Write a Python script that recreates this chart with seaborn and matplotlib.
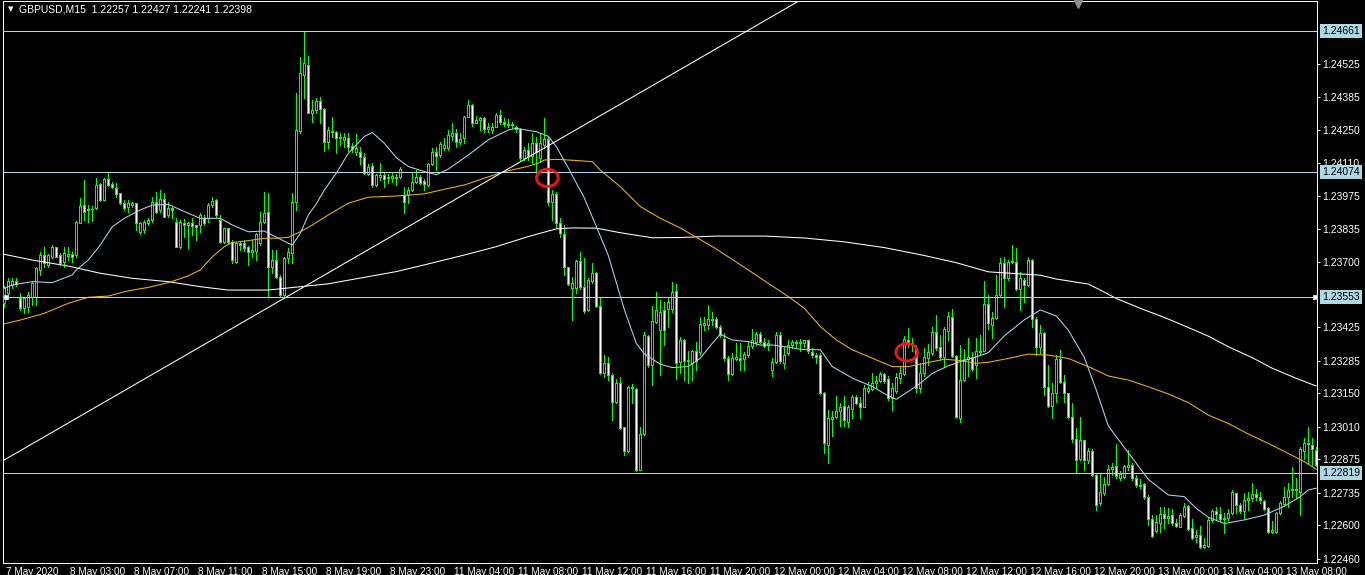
import numpy as np
import matplotlib
matplotlib.use("Agg")
import matplotlib.pyplot as plt
import matplotlib.transforms as mtransforms
from matplotlib.patches import Ellipse
import seaborn as sns

# GBPUSD M15 candles, prices kept in points above 1.20000 (price = 1.2 + pts / 100000)
open_pts = [
    3526, 3567, 3602, 3620, 3547, 3505, 3512, 3553, 3553, 3665,
    3727, 3685, 3720, 3759, 3727, 3699, 3724, 3731, 3727, 3862,
    3935, 3915, 3917, 3922, 4023, 3956, 4044, 4023, 4005, 3984,
    3945, 3929, 3935, 3942, 3824, 3831, 3859, 3873, 3949, 3915,
    3959, 3894, 3922, 3866, 3762, 3862, 3852, 3859, 3852, 3852,
    3880, 3880, 3935, 3956, 3873, 3783, 3838, 3783, 3699, 3776,
    3779, 3759, 3741, 3745, 3776, 3866, 3908, 3678, 3706, 3637,
    3560, 3713, 3734, 3950, 4242, 4478, 4519, 4321, 4332, 4371,
    4335, 4200, 4238, 4238, 4214, 4207, 4214, 4182, 4158, 4156,
    4135, 4065, 4099, 4017, 4054, 4061, 4047, 4046, 4054, 4051,
    3978, 3978, 3999, 4033, 4054, 4036, 4019, 4107, 4157, 4144,
    4172, 4172, 4223, 4237, 4200, 4214, 4304, 4352, 4279, 4290,
    4297, 4251, 4248, 4262, 4311, 4283, 4273, 4268, 4262, 4251,
    4130, 4165, 4140, 4196, 4130, 4186, 4209, 3946, 3982, 3859,
    3815, 3676, 3589, 3589, 3704, 3593, 3498, 3620, 3654, 3515,
    3234, 3276, 3227, 3116, 3193, 3009, 2912, 3172, 3168, 2832,
    2982, 3390, 3269, 3446, 3415, 3498, 3501, 3501, 3579, 3283,
    3373, 3287, 3279, 3325, 3321, 3436, 3436, 3457, 3459, 3429,
    3376, 3297, 3232, 3293, 3297, 3293, 3311, 3348, 3366, 3398,
    3366, 3352, 3248, 3283, 3394, 3276, 3318, 3352, 3359, 3365,
    3362, 3371, 3321, 3311, 3311, 3151, 2936, 3043, 3051, 3075,
    3096, 3033, 3084, 3137, 3109, 3095, 3162, 3168, 3193, 3200,
    3232, 3209, 3130, 3162, 3214, 3232, 3373, 3362, 3339, 3172,
    3234, 3297, 3318, 3408, 3343, 3301, 3412, 3468, 3307, 3047,
    3207, 3293, 3301, 3269, 3321, 3329, 3523, 3435, 3463, 3560,
    3695, 3630, 3698, 3699, 3584, 3625, 3602, 3706, 3459, 3345,
    3403, 3175, 3098, 3150, 3292, 3199, 3150, 3053, 2959, 2875,
    2956, 2873, 2911, 2810, 2692, 2734, 2773, 2834, 2848, 2796,
    2803, 2845, 2850, 2796, 2768, 2773, 2720, 2625, 2578, 2611,
    2648, 2630, 2643, 2611, 2595, 2639, 2681, 2588, 2550, 2560,
    2511, 2514, 2623, 2661, 2648, 2625, 2630, 2650, 2734, 2685,
    2661, 2706, 2713, 2730, 2720, 2703, 2671, 2574, 2574, 2650,
    2689, 2717, 2748, 2750, 2741, 2911, 2939, 2935, 2914,
]
high_pts = [
    3598, 3630, 3630, 3630, 3567, 3553, 3574, 3616, 3678, 3741,
    3759, 3731, 3769, 3762, 3734, 3762, 3759, 3741, 3870, 3963,
    4040, 3935, 3933, 4047, 4029, 4047, 4074, 4033, 4026, 3987,
    3956, 3956, 3949, 3945, 3866, 3873, 3880, 3970, 3991, 3998,
    3984, 3949, 3929, 3880, 3873, 3876, 3866, 3880, 3852, 3901,
    3894, 3942, 3967, 3959, 3894, 3838, 3838, 3790, 3783, 3783,
    3790, 3765, 3790, 3817, 3908, 3991, 3984, 3748, 3748, 3644,
    3720, 3755, 3984, 4401, 4554, 4661, 4557, 4374, 4381, 4385,
    4339, 4260, 4301, 4242, 4235, 4235, 4235, 4193, 4232, 4179,
    4151, 4107, 4110, 4065, 4110, 4068, 4065, 4068, 4065, 4096,
    4012, 4012, 4068, 4082, 4061, 4043, 4112, 4172, 4176, 4200,
    4214, 4249, 4276, 4251, 4234, 4307, 4373, 4357, 4307, 4304,
    4304, 4276, 4276, 4321, 4332, 4297, 4293, 4283, 4265, 4255,
    4179, 4193, 4234, 4221, 4234, 4297, 4221, 3998, 3991, 3880,
    3852, 3679, 3637, 3707, 3741, 3714, 3630, 3693, 3658, 3547,
    3311, 3304, 3234, 3209, 3220, 3012, 3182, 3190, 3172, 3012,
    3408, 3394, 3515, 3575, 3540, 3533, 3547, 3616, 3607, 3387,
    3376, 3325, 3332, 3366, 3470, 3470, 3519, 3491, 3470, 3436,
    3401, 3307, 3318, 3359, 3362, 3321, 3366, 3418, 3408, 3408,
    3380, 3373, 3297, 3408, 3408, 3345, 3373, 3373, 3371, 3376,
    3373, 3373, 3339, 3318, 3318, 3158, 3082, 3075, 3140, 3112,
    3140, 3102, 3144, 3144, 3137, 3186, 3196, 3234, 3223, 3241,
    3234, 3223, 3193, 3234, 3262, 3390, 3422, 3380, 3352, 3276,
    3339, 3357, 3426, 3477, 3394, 3429, 3491, 3501, 3311, 3352,
    3335, 3380, 3321, 3380, 3394, 3620, 3560, 3491, 3643, 3713,
    3717, 3706, 3769, 3755, 3657, 3630, 3720, 3709, 3467, 3435,
    3407, 3268, 3192, 3310, 3331, 3227, 3153, 3109, 3005, 3050,
    2956, 2921, 2917, 2817, 2817, 2803, 2852, 2859, 2939, 2828,
    2852, 2914, 2859, 2810, 2792, 2775, 2727, 2643, 2643, 2678,
    2675, 2671, 2667, 2625, 2650, 2695, 2685, 2625, 2581, 2598,
    2546, 2630, 2667, 2675, 2678, 2650, 2667, 2748, 2736, 2695,
    2734, 2741, 2775, 2750, 2741, 2706, 2678, 2620, 2657, 2703,
    2761, 2778, 2842, 2796, 2928, 2963, 3009, 2963, 2928,
]
low_pts = [
    3512, 3560, 3588, 3598, 3498, 3487, 3491, 3519, 3519, 3644,
    3678, 3678, 3713, 3717, 3685, 3678, 3706, 3699, 3720, 3859,
    3873, 3866, 3870, 3917, 3954, 3956, 4015, 4005, 3970, 3940,
    3915, 3908, 3929, 3831, 3815, 3820, 3852, 3866, 3901, 3908,
    3884, 3887, 3880, 3759, 3755, 3804, 3755, 3810, 3790, 3824,
    3852, 3866, 3929, 3887, 3779, 3776, 3779, 3692, 3695, 3748,
    3745, 3685, 3720, 3706, 3769, 3859, 3553, 3651, 3630, 3553,
    3556, 3692, 3692, 3915, 4235, 4381, 4318, 4283, 4318, 4279,
    4162, 4172, 4221, 4154, 4186, 4179, 4162, 4158, 4144, 4107,
    4065, 4061, 4012, 4015, 4040, 4012, 4026, 4033, 4019, 4049,
    3904, 3943, 3992, 4029, 4024, 3999, 4015, 4103, 4082, 4137,
    4165, 4165, 4207, 4176, 4190, 4193, 4301, 4265, 4276, 4248,
    4241, 4241, 4234, 4259, 4273, 4265, 4259, 4255, 4241, 4123,
    4123, 4123, 4109, 4075, 4116, 4172, 3936, 3873, 3839, 3804,
    3644, 3602, 3457, 3568, 3584, 3487, 3495, 3609, 3512, 3232,
    3220, 3207, 3040, 3109, 3001, 2894, 2908, 3109, 2825, 2829,
    2977, 3262, 3186, 3443, 3227, 3352, 3429, 3491, 3209, 3234,
    3207, 3193, 3207, 3248, 3311, 3415, 3418, 3436, 3422, 3387,
    3290, 3207, 3227, 3290, 3248, 3248, 3304, 3339, 3352, 3359,
    3343, 3332, 3221, 3276, 3276, 3255, 3311, 3339, 3343, 3325,
    3343, 3318, 3304, 3276, 3148, 2901, 2859, 2971, 3047, 3015,
    3015, 3012, 3047, 3107, 3047, 3093, 3151, 3165, 3172, 3196,
    3193, 3123, 3082, 3151, 3193, 3227, 3345, 3325, 3158, 3158,
    3223, 3269, 3311, 3332, 3290, 3262, 3373, 3301, 3047, 3033,
    3204, 3221, 3245, 3214, 3311, 3325, 3420, 3380, 3459, 3556,
    3512, 3625, 3692, 3581, 3498, 3532, 3598, 3428, 3310, 3317,
    3143, 3095, 3046, 3116, 3192, 3116, 3046, 2949, 2824, 2873,
    2831, 2859, 2806, 2664, 2685, 2727, 2768, 2810, 2796, 2789,
    2796, 2831, 2789, 2759, 2755, 2709, 2602, 2553, 2574, 2574,
    2588, 2609, 2602, 2592, 2592, 2634, 2581, 2542, 2532, 2505,
    2505, 2509, 2616, 2625, 2620, 2570, 2623, 2648, 2650, 2653,
    2630, 2664, 2703, 2706, 2692, 2664, 2570, 2567, 2570, 2648,
    2685, 2678, 2720, 2713, 2643, 2875, 2856, 2852, 2848,
]
close_pts = [
    3588, 3620, 3620, 3606, 3505, 3547, 3560, 3609, 3672, 3727,
    3692, 3727, 3759, 3720, 3692, 3734, 3731, 3720, 3866, 3931,
    3908, 3920, 3920, 4019, 3956, 4044, 4019, 4012, 3981, 3942,
    3922, 3942, 3942, 3859, 3859, 3866, 3873, 3949, 3908, 3959,
    3887, 3922, 3915, 3762, 3866, 3852, 3862, 3848, 3845, 3894,
    3859, 3935, 3954, 3894, 3783, 3838, 3783, 3706, 3776, 3769,
    3755, 3741, 3748, 3815, 3866, 3901, 3678, 3706, 3637, 3560,
    3713, 3741, 3949, 4249, 4485, 4526, 4321, 4332, 4371, 4335,
    4200, 4249, 4246, 4214, 4217, 4221, 4179, 4168, 4172, 4135,
    4068, 4096, 4017, 4061, 4061, 4043, 4054, 4057, 4046, 4085,
    3950, 3999, 4033, 4054, 4029, 4024, 4107, 4157, 4140, 4190,
    4186, 4228, 4237, 4200, 4211, 4304, 4352, 4279, 4290, 4297,
    4251, 4259, 4262, 4311, 4283, 4273, 4268, 4273, 4254, 4130,
    4165, 4140, 4193, 4158, 4193, 4209, 3946, 3982, 3859, 3818,
    3679, 3607, 3609, 3704, 3593, 3495, 3623, 3654, 3515, 3234,
    3276, 3227, 3116, 3193, 3005, 2912, 3179, 3179, 2832, 2982,
    3394, 3269, 3450, 3498, 3491, 3415, 3533, 3575, 3279, 3373,
    3287, 3290, 3325, 3287, 3440, 3443, 3459, 3459, 3426, 3394,
    3297, 3232, 3297, 3301, 3290, 3315, 3348, 3371, 3398, 3366,
    3348, 3362, 3283, 3394, 3287, 3311, 3352, 3366, 3365, 3362,
    3371, 3325, 3311, 3301, 3151, 2943, 3047, 3051, 3075, 3093,
    3040, 3093, 3137, 3109, 3095, 3172, 3172, 3193, 3204, 3232,
    3204, 3130, 3172, 3218, 3234, 3376, 3362, 3357, 3172, 3234,
    3301, 3321, 3408, 3339, 3301, 3418, 3473, 3307, 3051, 3207,
    3293, 3301, 3251, 3329, 3326, 3523, 3443, 3463, 3560, 3695,
    3630, 3699, 3702, 3584, 3630, 3602, 3706, 3459, 3345, 3400,
    3178, 3098, 3153, 3292, 3199, 3150, 3050, 2959, 2873, 2956,
    2873, 2911, 2810, 2685, 2741, 2773, 2834, 2845, 2806, 2814,
    2848, 2850, 2796, 2768, 2766, 2717, 2625, 2556, 2616, 2648,
    2630, 2641, 2609, 2598, 2643, 2675, 2584, 2546, 2560, 2509,
    2517, 2623, 2661, 2648, 2625, 2631, 2650, 2741, 2685, 2661,
    2706, 2716, 2731, 2720, 2706, 2667, 2574, 2581, 2650, 2695,
    2720, 2748, 2752, 2748, 2917, 2942, 2942, 2917, 2852,
]

# moving averages (bar index, points)
fast_bars = [0, 2, 7, 12, 17, 18, 21, 24, 27, 30, 34, 37, 41, 46, 49, 54, 57, 61, 65, 67,
             71, 72, 74, 76, 78, 80, 83, 86, 90, 92, 95, 98, 101, 105, 108, 111, 116, 121, 126, 128,
             133, 136, 138, 141, 145, 148, 151, 155, 158, 160, 164, 167, 171, 174, 177, 179, 182, 186, 189, 192,
             196, 199, 204, 207, 212, 217, 221, 223, 226, 229, 232, 236, 239, 242, 246, 250, 255, 259, 263, 266,
             270, 273, 276, 280, 283, 286, 291, 295, 298, 301, 305, 310, 315, 320, 324, 326, 328]
fast_pts = [3588, 3602, 3616, 3612, 3644, 3665, 3706, 3769, 3845, 3880, 3915, 3935, 3938, 3901, 3880, 3880, 3852, 3824, 3827, 3810,
            3776, 3769, 3817, 3894, 3940, 3998, 4068, 4151, 4221, 4238, 4193, 4133, 4096, 4075, 4062, 4085, 4144, 4207, 4248, 4255,
            4241, 4222, 4179, 4090, 3965, 3846, 3725, 3500, 3359, 3315, 3272, 3258, 3262, 3297, 3359, 3397, 3373, 3366, 3352, 3352,
            3343, 3334, 3332, 3262, 3214, 3179, 3140, 3126, 3158, 3193, 3234, 3265, 3283, 3297, 3320, 3390, 3457, 3498, 3473, 3414,
            3300, 3164, 3015, 2925, 2859, 2792, 2727, 2720, 2671, 2634, 2608, 2623, 2643, 2680, 2720, 2748, 2755]

mid_bars = [0, 4, 10, 16, 21, 26, 31, 36, 41, 46, 49, 52, 55, 57, 61, 65, 68, 71, 74, 77,
            81, 86, 91, 98, 105, 110, 115, 120, 125, 130, 133, 135, 138, 143, 147, 149, 154, 159, 164, 169,
            178, 186, 191, 196, 200, 204, 208, 212, 217, 222, 226, 231, 235, 239, 243, 246, 251, 256, 261, 266,
            271, 276, 281, 286, 291, 296, 301, 306, 311, 316, 321, 325, 328]
mid_pts = [3440, 3456, 3484, 3526, 3551, 3556, 3578, 3592, 3612, 3640, 3665, 3720, 3762, 3779, 3787, 3797, 3797, 3801, 3824, 3852,
           3894, 3943, 3968, 3973, 3982, 4001, 4019, 4047, 4075, 4093, 4107, 4123, 4126, 4121, 4116, 4081, 4012, 3929, 3880, 3840,
           3752, 3665, 3609, 3554, 3505, 3429, 3373, 3332, 3297, 3262, 3262, 3279, 3293, 3287, 3276, 3280, 3296, 3314, 3310, 3296,
           3262, 3223, 3206, 3178, 3148, 3112, 3060, 3025, 2981, 2942, 2900, 2866, 2834]

slow_bars = [0, 7, 16, 24, 32, 41, 49, 56, 66, 74, 81, 90, 98, 106, 115, 123, 131, 138, 142, 148,
             154, 162, 169, 178, 190, 200, 210, 220, 230, 238, 246, 259, 263, 271, 274, 278, 284, 290, 295, 301,
             306, 312, 317, 323, 328]
slow_pts = [3730, 3706, 3681, 3651, 3630, 3616, 3595, 3581, 3581, 3595, 3607, 3634, 3658, 3690, 3727, 3762, 3804, 3836, 3840, 3839,
            3820, 3799, 3800, 3806, 3806, 3798, 3782, 3758, 3725, 3695, 3657, 3643, 3627, 3606, 3581, 3546, 3505, 3467, 3432, 3389,
            3345, 3299, 3255, 3213, 3181]

# chart objects
levels = [1.24661, 1.24074, 1.23553, 1.22819]
trend_bars = [0, 200]
trend_prices = [1.22873, 1.24799]
circle_bars = [135.75, 225.6]
circle_prices = [1.24049, 1.23322]

price_ticks = [1.24525, 1.24385, 1.24250, 1.24110, 1.23975, 1.23835, 1.23700, 1.23425,
               1.23285, 1.23150, 1.23010, 1.22875, 1.22735, 1.22600, 1.22460]
time_bars = list(range(0, 321, 16))
time_labels = ['7 May 2020', '8 May 03:00', '8 May 07:00', '8 May 11:00', '8 May 15:00', '8 May 19:00',
               '8 May 23:00', '11 May 04:00', '11 May 08:00', '11 May 12:00', '11 May 16:00', '11 May 20:00',
               '12 May 00:00', '12 May 04:00', '12 May 08:00', '12 May 12:00', '12 May 16:00', '12 May 20:00',
               '13 May 00:00', '13 May 04:00', '13 May 08:00']

LIME = '#00FF00'
LBLUE = '#ADD8E6'
GOLD = '#F2B600'
LW = 0.7

def to_price(p):
    return 1.2 + np.array(p) / 100000.0

o = to_price(open_pts)
h = to_price(high_pts)
l = to_price(low_pts)
c = to_price(close_pts)
bars = np.arange(len(o))

sns.set_style("dark", {"axes.facecolor": "black", "figure.facecolor": "black"})
plt.rcParams['font.family'] = ['Liberation Sans', 'DejaVu Sans']

fig = plt.figure(figsize=(13.65, 5.75), dpi=100)
fig.patch.set_facecolor('black')
ax = fig.add_axes([3 / 1365, 12 / 575, 1314 / 1365, 562 / 575])
ax.set_facecolor('black')
ax.grid(False)

# candles
ax.vlines(bars, np.minimum(l, np.minimum(o, c)), np.maximum(h, np.maximum(o, c)),
          color=LIME, lw=LW, antialiased=False, zorder=3)
fills = ['black' if cc >= oo else 'white' for oo, cc in zip(o, c)]
ax.bar(bars, np.abs(c - o), bottom=np.minimum(o, c), width=0.55, color=fills,
       edgecolor=LIME, linewidth=0.55, antialiased=False, zorder=4)

# moving averages
sns.lineplot(x=slow_bars, y=to_price(slow_pts), ax=ax, color='white', linewidth=0.75, zorder=5)
sns.lineplot(x=mid_bars, y=to_price(mid_pts), ax=ax, color=GOLD, linewidth=0.75, zorder=5)
sns.lineplot(x=fast_bars, y=to_price(fast_pts), ax=ax, color=LBLUE, linewidth=0.75, zorder=5)

# objects
for lv in levels:
    ax.axhline(lv, color=LBLUE, lw=LW, antialiased=False, zorder=6)
ax.plot([0.45, 327.6], [levels[2], levels[2]], 's', ms=3.5, mfc='white', mec=LBLUE, mew=0.8,
        ls='none', zorder=7, clip_on=False)
ax.axline((trend_bars[0], trend_prices[0]), (trend_bars[1], trend_prices[1]),
          color='white', linewidth=0.75, zorder=6)
for bx, py in zip(circle_bars, circle_prices):
    ax.add_patch(Ellipse((bx, py), 5.4, 0.00072, fill=False, ec='#FF1010', lw=2.0, zorder=8))

ax.set_xlim(-0.325, 328.175)
ax.set_ylim(1.224434, 1.247858)

for side in ['left', 'right', 'top', 'bottom']:
    ax.spines[side].set_color('white')
    ax.spines[side].set_linewidth(LW)
    ax.spines[side].set_visible(True)

ax.yaxis.tick_right()
ax.set_yticks(price_ticks)
ax.set_yticklabels([f'{p:.5f}' for p in price_ticks])
ax.tick_params(axis='y', colors='white', labelcolor='white', labelsize=7.5, length=2.5, width=0.7,
               pad=1.5, direction='out', left=False, right=True)
ax.set_xticks(time_bars)
ax.set_xticklabels(time_labels, ha='left')
ax.tick_params(axis='x', colors='white', labelcolor='white', labelsize=7.2, length=2.5, width=0.7,
               pad=0.5, direction='out')
shift = mtransforms.ScaledTranslation(2 / 100, 0, fig.dpi_scale_trans)
for lab in ax.get_xticklabels():
    lab.set_transform(lab.get_transform() + shift)
ax.set_xlabel('')
ax.set_ylabel('')

# price boxes for the horizontal lines
ytrans = mtransforms.blended_transform_factory(ax.transAxes, ax.transData)
for lv in levels:
    ax.text(1.0 + 5 / 1314, lv, f'{lv:.5f}', transform=ytrans, ha='left', va='center',
            fontsize=7.5, color='black', zorder=10, clip_on=False,
            bbox=dict(boxstyle='square,pad=0.18', fc=LBLUE, ec='none'))

# chart shift marker at the top
xtrans = mtransforms.blended_transform_factory(ax.transData, ax.transAxes)
ax.plot([268.4], [0.995], marker='v', ms=6, color='#8C8C8C', transform=xtrans, clip_on=False, zorder=9)

# header
fig.text(8 / 1365, 1 - 9 / 575, '\u25bc', color='white', fontsize=5, va='center', ha='left',
         family=['DejaVu Sans'])
fig.text(19 / 1365, 1 - 9 / 575, 'GBPUSD,M15  1.22257 1.22427 1.22241 1.22398',
         color='white', fontsize=7.5, va='center', ha='left')

fig.savefig('out.png', dpi=100, facecolor='black')
